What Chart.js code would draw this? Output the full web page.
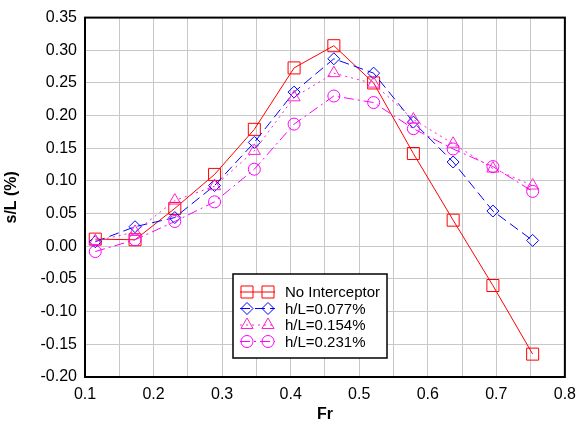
<!DOCTYPE html>
<html>
<head>
<meta charset="utf-8">
<script src="https://cdn.jsdelivr.net/npm/chart.js@4"></script>
<style>
    html, body { margin: 0; padding: 0; background: #ffffff; }
    #wrap { width: 584px; height: 430px; position: relative; }
</style>
</head>
<body>
<div id="wrap"><canvas id="grafica"></canvas></div>
<script>
// ============================================
// DATOS
// ============================================
const froude = [0.115, 0.173, 0.231, 0.289, 0.347, 0.405, 0.463, 0.521, 0.579, 0.637, 0.695, 0.753];
const sinInterceptor = [0.011, 0.010, 0.058, 0.110, 0.179, 0.273, 0.307, 0.250, 0.142, 0.040, -0.060, -0.165];
const h077 = [0.007, 0.030, 0.044, 0.093, 0.159, 0.236, 0.287, 0.265, 0.190, 0.129, 0.054, 0.009];
const h154 = [0.008, 0.022, 0.070, 0.092, 0.146, 0.228, 0.265, 0.249, 0.194, 0.157, 0.119, 0.093];
const h231 = [-0.008, 0.010, 0.038, 0.068, 0.118, 0.187, 0.230, 0.220, 0.180, 0.149, 0.122, 0.084];
const etiquetas = ['No Interceptor', 'h/L=0.077%', 'h/L=0.154%', 'h/L=0.231%'];

const FUENTE = '"Liberation Sans", Arial, sans-serif';

function puntos(ys) {
    return froude.map((x, i) => ({ x: x, y: ys[i] }));
}

function serie(label, ys, color, estilo, radio, dash) {
    return {
        label: label,
        data: puntos(ys),
        borderColor: color,
        backgroundColor: 'transparent',
        pointBackgroundColor: 'transparent',
        pointBorderColor: color,
        pointStyle: estilo,
        pointRadius: radio,
        pointBorderWidth: 1,
        borderWidth: 1,
        borderDash: dash,
        tension: 0
    };
}

const series = [
    serie(etiquetas[3], h231, '#ff00ff', 'circle', 6, [10, 4, 2, 4]),
    serie(etiquetas[2], h154, '#ff22cc', 'triangle', 7, [2, 4]),
    serie(etiquetas[1], h077, '#0000ff', 'rectRot', 6, [10, 5]),
    serie(etiquetas[0], sinInterceptor, '#ff0000', 'rect', 8.5, [])
];

// ============================================
// MARCO DEL AREA Y LEYENDA
// ============================================
const marcoYLeyenda = {
    id: 'marcoYLeyenda',
    afterDraw(chart) {
        const ctx = chart.ctx;
        const a = chart.chartArea;
        ctx.save();
        ctx.strokeStyle = '#000000';
        ctx.lineWidth = 2;
        ctx.setLineDash([]);
        ctx.strokeRect(a.left, a.top, a.right - a.left, a.bottom - a.top);

        // caja de la leyenda
        const bx = 233, by = 274, bw = 154, bh = 84;
        ctx.fillStyle = '#ffffff';
        ctx.fillRect(bx, by, bw, bh);
        ctx.lineWidth = 1.5;
        ctx.strokeRect(bx, by, bw, bh);

        const orden = [3, 2, 1, 0];
        ctx.font = '15px ' + FUENTE;
        ctx.textBaseline = 'middle';
        orden.forEach((idx, fila) => {
            const ds = series[idx];
            const y = by + 18 + fila * 16.5;
            ctx.strokeStyle = ds.borderColor;
            ctx.lineWidth = 1;
            ctx.setLineDash(ds.borderDash);
            ctx.beginPath();
            ctx.moveTo(240, y);
            ctx.lineTo(275, y);
            ctx.stroke();
            ctx.setLineDash([]);
            ctx.fillStyle = 'rgba(0,0,0,0)';
            [247, 268].forEach(px => {
                Chart.helpers.drawPoint(ctx, {
                    pointStyle: ds.pointStyle,
                    radius: ds.pointRadius,
                    borderWidth: 1
                }, px, y);
            });
            ctx.fillStyle = '#000000';
            ctx.fillText(ds.label, 285, y + 1);
        });
        ctx.restore();
    }
};

// ============================================
// GRAFICA
// ============================================
function cargarGrafica() {
    const ctx = document.getElementById('grafica').getContext('2d');
    new Chart(ctx, {
        type: 'line',
        data: { datasets: series },
        options: {
            responsive: true,
            maintainAspectRatio: false,
            animation: false,
            layout: { padding: { top: 15, right: 16, left: 0, bottom: 0 } },
            plugins: {
                legend: { display: false },
                tooltip: { enabled: false }
            },
            scales: {
                x: {
                    type: 'linear',
                    min: 0.1,
                    max: 0.8,
                    grid: { color: '#c8c8c8', lineWidth: 1, drawTicks: false },
                    border: { display: false },
                    ticks: {
                        stepSize: 0.05,
                        autoSkip: false,
                        maxRotation: 0,
                        padding: 8,
                        color: '#000000',
                        font: { family: FUENTE, size: 16 },
                        callback: v => (Math.round(v * 100) % 10 === 0 ? v.toFixed(1) : '')
                    },
                    title: {
                        display: true,
                        text: 'Fr',
                        color: '#000000',
                        font: { family: FUENTE, size: 16, weight: 'bold' },
                        padding: { top: 0, bottom: 6 }
                    },
                    afterFit: s => { s.height = 53; }
                },
                y: {
                    min: -0.2,
                    max: 0.35,
                    grid: { color: '#c8c8c8', lineWidth: 1, drawTicks: false },
                    border: { display: false },
                    ticks: {
                        stepSize: 0.05,
                        padding: 8,
                        color: '#000000',
                        font: { family: FUENTE, size: 16 },
                        callback: v => (Math.abs(v) < 1e-9 ? '0.00' : v.toFixed(2))
                    },
                    title: {
                        display: true,
                        text: 's/L (%)',
                        color: '#000000',
                        font: { family: FUENTE, size: 16, weight: 'bold' },
                        padding: { top: 2, bottom: 4 }
                    },
                    afterFit: s => { s.width = 85; }
                }
            }
        },
        plugins: [marcoYLeyenda]
    });
}

document.addEventListener('DOMContentLoaded', cargarGrafica);
</script>
</body>
</html>
